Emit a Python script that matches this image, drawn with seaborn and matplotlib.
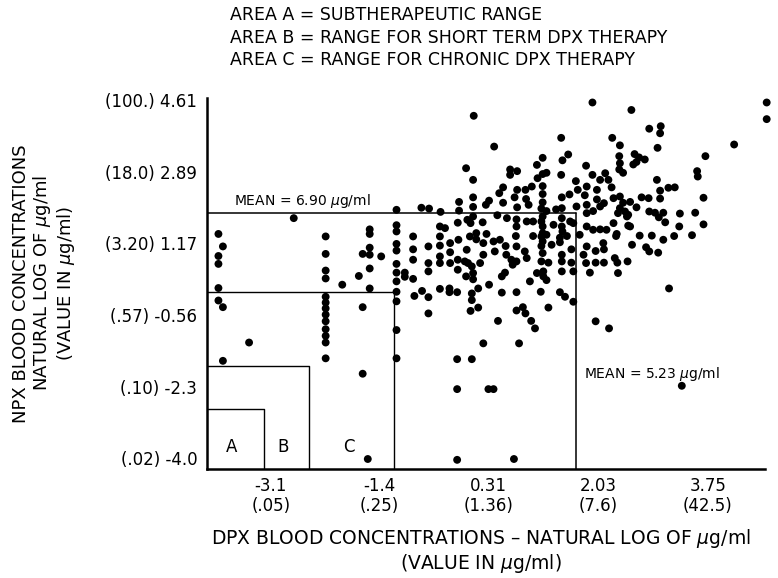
import pandas as pd
import seaborn as sns
import numpy as np
import matplotlib
matplotlib.use("Agg")
import matplotlib.pyplot as plt

# points: (ln DPX, ln NPX), grouped by area of the plot
left_pts = [(-3.92, 1.39), (-3.85, 1.09), (-3.92, 0.86), (-3.92, 0.67), (-3.92, 0.09), (-3.92, -0.21),
            (-3.85, -0.37), (-3.85, -1.66), (-3.44, -1.22), (-2.74, 1.77),
            (-2.24, 1.33), (-2.24, 0.91), (-2.24, 0.51), (-2.24, 0.32), (-2.24, -0.12), (-2.24, -0.26),
            (-2.24, -0.40), (-2.24, -0.55), (-2.24, -0.71), (-2.24, -0.90), (-2.24, -1.06), (-2.24, -1.22),
            (-2.24, -1.60), (-1.98, 0.17), (-1.72, 0.38), (-1.66, -0.37), (-1.66, -1.97), (-1.66, 0.91),
            (-1.58, -4.02), (-1.55, 1.50), (-1.55, 1.39), (-1.55, 1.06), (-1.55, 0.89), (-1.55, 0.56),
            (-1.55, 0.08), (-1.37, 0.85),
            (-1.13, 1.97), (-1.13, 1.60), (-1.13, 1.45), (-1.13, 1.15), (-1.13, 0.99), (-1.13, 0.67),
            (-1.13, 0.46), (-1.13, 0.25), (-1.13, 0.00), (-1.13, -0.23), (-1.13, -0.92), (-1.13, -1.60)]

top_pts = [(0.08, 4.23), (1.94, 4.55), (2.55, 4.37), (4.67, 4.55), (4.67, 4.15), (0.40, 3.49), (1.45, 3.70),
           (2.25, 3.70), (2.37, 3.52), (2.83, 3.92), (3.01, 3.98), (3.00, 3.81), (2.96, 3.46), (4.16, 3.54),
           (3.71, 3.26), (-0.04, 2.97), (0.07, 2.69), (0.65, 2.94), (0.76, 2.90), (0.65, 2.81), (1.07, 3.05),
           (1.16, 3.22), (1.47, 3.16), (1.56, 3.30), (1.84, 3.03), (2.36, 3.26), (2.37, 3.09), (2.36, 2.94),
           (2.42, 2.86), (2.60, 3.31), (2.67, 3.23), (2.76, 3.18), (2.58, 3.06), (2.63, 3.12), (1.45, 2.81),
           (1.22, 2.86), (1.16, 2.83), (1.08, 2.73), (1.94, 2.81), (2.06, 2.69), (2.14, 2.85), (2.19, 2.69),
           (2.24, 2.51), (1.68, 2.66), (1.85, 2.53), (2.01, 2.45), (2.95, 2.69), (3.58, 2.90), (3.59, 2.77),
           (3.68, 2.26), (3.13, 2.50), (3.23, 2.51), (3.00, 2.43)]

upper_pts = [(0.54, 2.51), (0.48, 2.37), (0.76, 2.45), (0.89, 2.45), (0.99, 2.53), (1.16, 2.54), (1.16, 2.35),
             (0.72, 2.27), (0.90, 2.23), (0.94, 2.09), (0.76, 2.03), (0.54, 2.14), (0.32, 2.19), (0.27, 2.09),
             (0.07, 2.27), (0.07, 2.04), (-0.15, 2.16), (-0.15, 1.95), (-0.44, 1.92), (-0.62, 2.00),
             (-0.74, 2.02), (1.16, 2.15), (1.46, 2.27), (1.58, 2.34), (1.71, 2.45), (1.82, 2.32), (1.69, 2.05),
             (1.46, 2.01), (1.37, 1.98), (1.22, 1.94), (1.85, 2.09), (2.01, 2.22), (2.12, 2.13), (2.06, 2.05),
             (1.95, 1.94), (2.27, 2.25), (2.37, 2.29), (2.42, 2.14), (2.53, 2.16), (2.63, 2.03), (2.71, 2.27),
             (2.82, 2.25), (3.00, 2.24), (2.83, 1.93), (2.92, 1.90), (3.05, 1.90), (3.31, 1.88), (3.55, 1.90),
             (2.37, 2.01), (2.45, 1.93), (2.50, 1.85), (2.34, 1.89), (1.14, 2.00)]

mid_pts = [(0.45, 1.84), (0.22, 1.67), (0.07, 1.81), (0.03, 1.65), (-0.02, 1.73), (-0.17, 1.66), (-0.37, 1.53),
           (-0.45, 1.57), (-0.87, 1.33), (0.60, 1.77), (0.75, 1.74), (0.75, 1.57), (0.91, 1.69), (1.01, 1.69),
           (1.16, 1.81), (1.16, 1.57), (1.33, 1.61), (1.46, 1.77), (1.46, 1.57), (1.59, 1.69), (1.64, 1.65),
           (1.85, 1.89), (1.85, 1.57), (1.95, 1.49), (2.06, 1.50), (2.16, 1.49), (2.27, 1.65), (2.48, 1.81),
           (2.50, 1.59), (2.32, 1.39), (2.53, 1.57), (3.08, 1.67), (3.30, 1.57), (3.68, 1.62), (2.98, 1.79),
           (1.14, 1.69), (1.47, 1.45)]

lower_pts = [(-0.87, 1.02), (-0.63, 1.09), (-0.45, 1.33), (-0.45, 1.11), (-0.29, 1.17), (-0.29, 0.95),
             (-0.16, 1.25), (-0.03, 1.01), (0.12, 1.41), (0.12, 1.26), (0.02, 1.33), (0.28, 1.39), (0.23, 1.17),
             (0.39, 1.21), (0.49, 1.25), (0.58, 1.10), (0.74, 1.34), (0.75, 1.09), (0.88, 0.97), (1.01, 1.34),
             (1.16, 1.41), (1.16, 1.21), (1.16, 0.93), (1.22, 1.37), (1.30, 1.13), (1.43, 1.19), (1.54, 1.34),
             (1.61, 1.02), (1.74, 1.37), (1.85, 1.09), (1.99, 0.98), (2.11, 1.17), (2.12, 1.02), (2.31, 1.34),
             (2.68, 1.35), (2.87, 1.35), (2.56, 1.13), (2.78, 1.07), (2.83, 0.97), (2.97, 0.94), (3.05, 1.25),
             (3.22, 1.34), (3.50, 1.36), (1.14, 1.33), (1.14, 1.10), (1.43, 1.30)]

low_pts = [(-1.00, 0.46), (-1.00, 0.36), (-0.87, 0.77), (-0.87, 0.31), (-0.63, 0.69), (-0.63, 0.49),
           (-0.45, 0.85), (-0.45, 0.69), (-0.29, 0.69), (-0.17, 0.77), (-0.17, 0.53), (-0.06, 0.73),
           (-0.01, 0.69), (0.05, 0.61), (0.18, 0.69), (0.23, 0.89), (0.41, 0.97), (0.59, 0.89), (0.67, 0.77),
           (0.69, 0.65), (0.75, 0.73), (0.91, 0.81), (1.14, 0.73), (1.25, 0.70), (1.46, 0.89), (1.46, 0.73),
           (1.61, 0.70), (1.64, 0.49), (1.46, 0.49), (1.17, 0.49), (1.17, 0.37), (0.57, 0.46), (0.52, 0.37),
           (0.07, 0.45), (-0.04, 0.37), (0.07, 0.30), (1.80, 0.89), (1.84, 0.69), (1.99, 0.70), (2.12, 0.70),
           (2.29, 0.81), (2.33, 0.70), (2.49, 0.73), (1.90, 0.46), (2.34, 0.45)]

sparse_pts = [(-0.85, -0.10), (-0.73, 0.02), (-0.63, -0.13), (-0.45, 0.07), (-0.30, 0.08), (-0.30, -0.01),
              (-0.18, -0.01), (0.05, -0.04), (0.05, -0.20), (0.15, 0.08), (0.32, 0.17), (0.52, -0.02),
              (0.75, -0.01), (0.96, 0.25), (1.13, 0.00), (1.43, -0.01), (1.51, -0.12), (1.64, -0.24),
              (1.22, 0.28), (1.07, 0.45), (3.14, 0.08), (-0.63, -0.52), (0.03, -0.46), (0.15, -0.38),
              (0.75, -0.45), (0.85, -0.37), (0.89, -0.52), (1.25, -0.38), (0.46, -0.70), (0.98, -0.70),
              (1.04, -0.88), (1.99, -0.71), (2.20, -0.88), (0.23, -1.24), (0.79, -1.24), (-0.18, -1.62),
              (0.05, -1.62), (-0.18, -2.34), (0.31, -2.34), (0.39, -2.34), (3.34, -2.26), (-0.18, -4.04),
              (0.71, -4.02)]

# means and therapy-range boundaries (ln units)
mean_dpx = 1.68
mean_npx = 1.89
box_labels = ['A', 'B', 'C']
box_dpx = [-3.20, -2.50, -1.17]
box_npx = [-2.815, -1.775, 0.0]

# tick values and labels
x_major = [-3.1, -1.4, 0.31, 2.03, 3.75]
x_major_labels = ['-3.1\n(.05)', '-1.4\n(.25)', '0.31\n(1.36)', '2.03\n(7.6)', '3.75\n(42.5)']
x_minor = [-3.97, -2.25, -0.55, 1.17, 2.89, 4.61]
y_major = [-4.0, -2.3, -0.56, 1.17, 2.89, 4.61]
y_major_labels = ['(.02) -4.0', '(.10) -2.3', '(.57) -0.56', '(3.20) 1.17', '(18.0) 2.89', '(100.) 4.61']
y_minor = [-3.15, -1.43, 0.31, 2.03, 3.75]

all_pts = left_pts + top_pts + upper_pts + mid_pts + lower_pts + low_pts + sparse_pts
df = pd.DataFrame(all_pts, columns=['dpx', 'npx'])

sns.set_theme(style='white')
plt.rcParams['font.family'] = ['DejaVu Sans']
plt.rcParams['mathtext.fontset'] = 'dejavusans'
plt.rcParams['text.color'] = 'black'
plt.rcParams['xtick.color'] = 'black'
plt.rcParams['ytick.color'] = 'black'
plt.rcParams['axes.labelcolor'] = 'black'

fig = plt.figure(figsize=(7.78, 5.78), dpi=100)
ax = fig.add_axes([0.266, 0.1886, 0.717, 0.642])

sns.scatterplot(data=df, x='dpx', y='npx', color='black', s=32, edgecolor='none',
                legend=False, ax=ax)
ax.collections[0].set_clip_on(False)

xmin, xmax = -4.1, 4.64
ymin, ymax = -4.26, 4.66
ax.set_xlim(xmin, xmax)
ax.set_ylim(ymin, ymax)

# mean lines
ax.plot([xmin, mean_dpx], [mean_npx, mean_npx], color='black', lw=1.1)
ax.plot([mean_dpx, mean_dpx], [ymin, mean_npx], color='black', lw=1.1)
ax.text(-3.68, mean_npx + 0.08, 'MEAN = 6.90 $\\mu$g/ml', fontsize=10, va='bottom', ha='left')
ax.text(1.81, -1.97, 'MEAN = 5.23 $\\mu$g/ml', fontsize=10, va='center', ha='left')

# therapy areas
for bx, by in zip(box_dpx, box_npx):
    ax.plot([xmin, bx, bx], [by, by, ymin], color='black', lw=1.0)
for lab, lx in zip(box_labels, [-3.71, -2.90, -1.88]):
    ax.text(lx, -3.73, lab, fontsize=12, ha='center', va='center')

# axes styling
for side in ['top', 'right']:
    ax.spines[side].set_visible(False)
for side in ['left', 'bottom']:
    ax.spines[side].set_linewidth(1.8)
    ax.spines[side].set_color('black')

ax.set_xticks(x_major)
ax.set_xticklabels(x_major_labels, fontsize=12, linespacing=1.15)
ax.set_xticks(x_minor, minor=True)
ax.set_yticks(y_major)
ax.set_yticklabels(y_major_labels, fontsize=12)
ax.set_yticks(y_minor, minor=True)
ax.tick_params(which='both', direction='in', length=5, width=1.2, color='black')
ax.tick_params(axis='x', which='major', pad=6)
ax.tick_params(axis='y', which='major', pad=7)
ax.set_xlabel('')
ax.set_ylabel('')

fig.text(0.057, 0.51, 'NPX BLOOD CONCENTRATIONS\nNATURAL LOG OF $\\mu$g/ml\n(VALUE IN $\\mu$g/ml)',
         rotation=90, ha='center', va='center', multialignment='center', fontsize=13, linespacing=1.1)
fig.text(0.618, 0.047, 'DPX BLOOD CONCENTRATIONS \u2013 NATURAL LOG OF $\\mu$g/ml\n(VALUE IN $\\mu$g/ml)',
         ha='center', va='center', multialignment='center', fontsize=13.5, linespacing=1.15)

fig.text(0.296, 0.974, 'AREA A = SUBTHERAPEUTIC RANGE', fontsize=12.5, va='center')
fig.text(0.296, 0.934, 'AREA B = RANGE FOR SHORT TERM DPX THERAPY', fontsize=12.5, va='center')
fig.text(0.296, 0.896, 'AREA C = RANGE FOR CHRONIC DPX THERAPY', fontsize=12.5, va='center')

fig.savefig('out.png', dpi=100)
